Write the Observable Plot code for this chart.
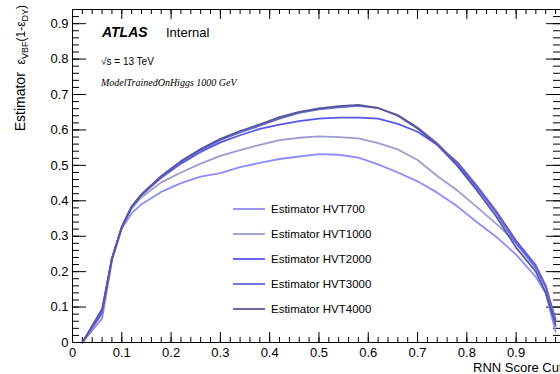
<!DOCTYPE html>
<html><head><meta charset="utf-8">
<script src="https://cdn.jsdelivr.net/npm/d3@7"></script>
<script src="https://cdn.jsdelivr.net/npm/@observablehq/plot@0.6"></script>
<style>
html,body{margin:0;padding:0;background:#fff;overflow:hidden}
#chart svg{display:block}
</style></head><body><div id="chart"></div>
<script>
const seriesNames = ["Estimator HVT700", "Estimator HVT1000", "Estimator HVT2000", "Estimator HVT3000", "Estimator HVT4000"];
const seriesColors = ["#8c8cff", "#9c9cd0", "#5656f0", "#6666d8", "#585894"];
const cuts = [0.02, 0.06, 0.08, 0.10, 0.12, 0.14, 0.18, 0.22, 0.26, 0.30, 0.34, 0.38, 0.42, 0.46, 0.50, 0.54, 0.58, 0.62, 0.66, 0.70, 0.74, 0.78, 0.82, 0.86, 0.90, 0.94, 0.96, 0.98];
const hvt700  = [0, 0.067, 0.230, 0.322, 0.365, 0.390, 0.425, 0.450, 0.468, 0.478, 0.495, 0.507, 0.518, 0.525, 0.532, 0.530, 0.522, 0.503, 0.480, 0.455, 0.423, 0.385, 0.340, 0.298, 0.248, 0.185, 0.140, 0.030];
const hvt1000 = [0, 0.080, 0.235, 0.325, 0.378, 0.410, 0.452, 0.480, 0.505, 0.527, 0.543, 0.558, 0.571, 0.578, 0.582, 0.580, 0.576, 0.563, 0.545, 0.515, 0.470, 0.430, 0.383, 0.335, 0.282, 0.210, 0.160, 0.045];
const hvt2000 = [0, 0.085, 0.237, 0.326, 0.383, 0.416, 0.465, 0.505, 0.538, 0.565, 0.585, 0.603, 0.615, 0.625, 0.632, 0.635, 0.635, 0.632, 0.617, 0.595, 0.558, 0.510, 0.443, 0.370, 0.287, 0.218, 0.160, 0.065];
const hvt3000 = [0, 0.090, 0.237, 0.326, 0.383, 0.418, 0.468, 0.510, 0.543, 0.572, 0.593, 0.612, 0.632, 0.648, 0.658, 0.664, 0.668, 0.662, 0.642, 0.607, 0.562, 0.505, 0.438, 0.365, 0.280, 0.212, 0.155, 0.060];
const hvt4000 = [0, 0.095, 0.237, 0.326, 0.384, 0.418, 0.470, 0.512, 0.546, 0.575, 0.597, 0.616, 0.636, 0.651, 0.661, 0.667, 0.671, 0.662, 0.640, 0.604, 0.558, 0.500, 0.430, 0.355, 0.268, 0.200, 0.140, 0.050];
const xTickValues = [0, 0.1, 0.2, 0.3, 0.4, 0.5, 0.6, 0.7, 0.8, 0.9];
const yTickValues = [0, 0.1, 0.2, 0.3, 0.4, 0.5, 0.6, 0.7, 0.8, 0.9];
const xTitle = "RNN Score Cut";

const seriesValues = [hvt700, hvt1000, hvt2000, hvt3000, hvt4000];
const rows = [];
seriesNames.forEach((name, i) => cuts.forEach((c, j) => rows.push({series: name, cut: c, value: seriesValues[i][j]})));

const W = 560, H = 374, mT = 9, mB = 32, mL = 72, mR = 0;
const plotW = W - mL - mR, plotH = H - mT - mB;
const xMinor = d3.range(0, 0.99, 0.02);
const yMinor = d3.range(0, 0.94, 0.02);
const font = "'Liberation Sans', Arial, Helvetica, sans-serif";

const svg = Plot.plot({
  width: W, height: H,
  marginTop: mT, marginBottom: mB, marginLeft: mL, marginRight: mR,
  style: {fontFamily: font, fontSize: "13px", background: "white", color: "black", overflow: "visible"},
  x: {domain: [0, 0.99], ticks: xTickValues, tickSize: 0, tickPadding: 5, tickFormat: d => d === 0 ? "0" : d.toFixed(1), label: null},
  y: {domain: [0, 0.94], ticks: yTickValues, tickSize: 0, tickPadding: 4, tickFormat: d => d === 0 ? "0" : d.toFixed(1), label: null},
  color: {domain: seriesNames, range: seriesColors},
  marks: [
    Plot.ruleX(xMinor, {x: d => d, insetTop: plotH - 5, stroke: "black"}),
    Plot.ruleX(xTickValues, {x: d => d, insetTop: plotH - 10, stroke: "black"}),
    Plot.ruleX(xMinor, {x: d => d, insetBottom: plotH - 5, stroke: "black"}),
    Plot.ruleX(xTickValues, {x: d => d, insetBottom: plotH - 10, stroke: "black"}),
    Plot.ruleY(yMinor, {y: d => d, insetRight: plotW - 7, stroke: "black"}),
    Plot.ruleY(yTickValues, {y: d => d, insetRight: plotW - 14, stroke: "black"}),
    Plot.ruleY(yMinor, {y: d => d, insetLeft: plotW - 7, stroke: "black"}),
    Plot.ruleY(yTickValues, {y: d => d, insetLeft: plotW - 14, stroke: "black"}),
    Plot.line(rows, {x: "cut", y: "value", z: "series", stroke: "series", strokeWidth: 1.8}),
    Plot.frame({stroke: "black", strokeWidth: 1})
  ]
});

const s = d3.select(svg);
// Legend
const lg = s.append("g").attr("text-anchor", "start");
seriesNames.forEach((name, i) => {
  const y = 209 + 25 * i;
  lg.append("line").attr("x1", 233).attr("x2", 265).attr("y1", y).attr("y2", y)
    .attr("stroke", seriesColors[i]).attr("stroke-width", 1.8);
  lg.append("text").attr("x", 271).attr("y", y).attr("dy", "0.35em").attr("text-anchor", "start")
    .attr("font-family", font).attr("font-size", "11.5px").attr("fill", "black").text(name);
});
// ATLAS label
const t1 = s.append("text").attr("x", 102).attr("y", 37).attr("text-anchor", "start").attr("font-family", font).attr("font-size", "14px").attr("fill", "black");
t1.append("tspan").attr("font-weight", "bold").attr("font-style", "italic").text("ATLAS");
t1.append("tspan").attr("x", 166).attr("font-size", "13px").text("Internal");
s.append("text").attr("x", 101).attr("y", 65).attr("text-anchor", "start").attr("font-family", font).attr("font-size", "10px").attr("fill", "black").text("√s = 13 TeV");
s.append("text").attr("x", 101).attr("y", 86).attr("text-anchor", "start").attr("font-family", "'Liberation Serif', 'Times New Roman', serif").attr("font-style", "italic").attr("font-size", "10px").attr("fill", "black").text("ModelTrainedOnHiggs 1000 GeV");
// Axis titles
s.append("text").attr("x", 473).attr("y", 372).attr("text-anchor", "start").attr("font-family", font).attr("font-size", "13px").attr("fill", "black").text(xTitle);
const yt = s.append("text").attr("transform", "translate(25,5) rotate(-90)").attr("text-anchor", "end")
  .attr("font-family", font).attr("font-size", "14px").attr("fill", "black");
yt.append("tspan").text("Estimator  ");
yt.append("tspan").attr("font-size", "12px").text("ε");
yt.append("tspan").attr("font-size", "9px").attr("dy", 3).text("VBF");
yt.append("tspan").attr("font-size", "12px").attr("dy", -3).text("(1-ε");
yt.append("tspan").attr("font-size", "9px").attr("dy", 3).text("DY");
yt.append("tspan").attr("font-size", "12px").attr("dy", -3).text(")");

document.getElementById("chart").appendChild(svg);
</script>
</body></html>
